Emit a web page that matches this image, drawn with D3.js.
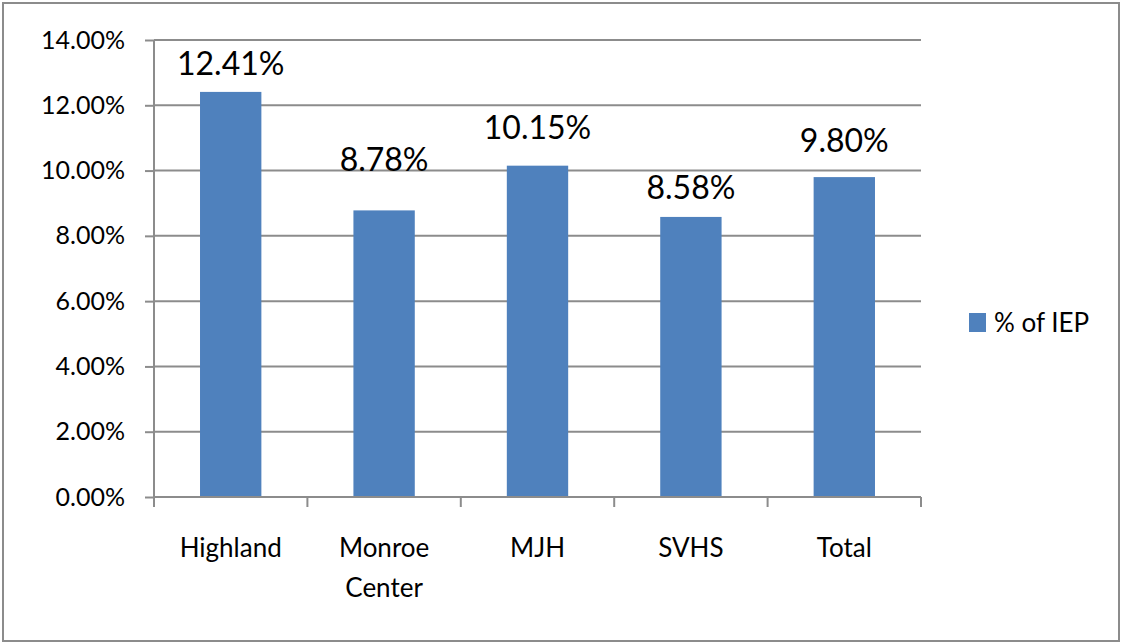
<!DOCTYPE html>
<html>
<head>
<meta charset="utf-8">
<script src="https://cdn.jsdelivr.net/npm/d3@7"></script>
<style>
  body { margin: 0; background: #fff; }
  text { font-family: Lato, "Open Sans", sans-serif; fill: #000; }
</style>
</head>
<body>
<svg width="1122" height="644"></svg>
<script>
// chart data
let categories = ["Highland", "Monroe Center", "MJH", "SVHS", "Total"];
let values = [12.41, 8.78, 10.15, 8.58, 9.80];
let yTicks = [0, 2, 4, 6, 8, 10, 12, 14];
let seriesName = "% of IEP";

// the data labels were nudged by hand in the original, px above bar top
let labelLift = [17, 39, 27, 18, 25];

let svg = d3.select("svg"),
    width = +svg.attr("width"),
    height = +svg.attr("height");

let plotLeft = 154, plotRight = 921, plotTop = 40, plotBottom = 497;

// outer frame
svg.append("rect")
    .attr("x", 3).attr("y", 3)
    .attr("width", width - 6).attr("height", height - 6)
    .attr("fill", "#fff")
    .attr("stroke", "#8c8c8c")
    .attr("stroke-width", 2);

let x = d3.scaleBand()
    .domain(categories)
    .range([plotLeft, plotRight])
    .paddingInner(0.6)
    .paddingOuter(0.3);

let y = d3.scaleLinear()
    .domain([0, 14])
    .range([plotBottom, plotTop]);

// gridlines
svg.append("g")
    .selectAll("line")
    .data(yTicks.filter(function(d) { return d > 0; }))
    .enter().append("line")
      .attr("x1", plotLeft).attr("x2", plotRight)
      .attr("y1", function(d) { return y(d); })
      .attr("y2", function(d) { return y(d); })
      .attr("stroke", "#8c8c8c")
      .attr("stroke-width", 2);

// y axis
let yAxis = svg.append("g")
    .attr("transform", "translate(" + plotLeft + ",0)")
    .call(d3.axisLeft(y)
      .tickValues(yTicks)
      .tickSize(9)
      .tickPadding(20)
      .tickFormat(function(d) { return d.toFixed(2) + "%"; }));
yAxis.select(".domain").attr("stroke", "#8c8c8c").attr("stroke-width", 2)
    .attr("d", "M0," + plotTop + "V" + plotBottom);
yAxis.selectAll(".tick line").attr("stroke", "#8c8c8c").attr("stroke-width", 2);
yAxis.selectAll(".tick text")
    .style("font-size", "25px")
    .style("font-family", "Lato, 'Open Sans', sans-serif")
    .attr("fill", "#000");

// bars
svg.append("g")
    .selectAll("rect")
    .data(values)
    .enter().append("rect")
      .attr("x", function(d, i) { return x(categories[i]); })
      .attr("y", function(d) { return y(d); })
      .attr("width", x.bandwidth())
      .attr("height", function(d) { return plotBottom - y(d); })
      .attr("fill", "#4f81bd");

// x axis
let step = x.step();
let xAxisLine = svg.append("g");
xAxisLine.append("line")
    .attr("x1", plotLeft).attr("x2", plotRight)
    .attr("y1", plotBottom).attr("y2", plotBottom)
    .attr("stroke", "#8c8c8c").attr("stroke-width", 2);
xAxisLine.selectAll(".xt")
    .data(d3.range(categories.length + 1))
    .enter().append("line")
      .attr("class", "xt")
      .attr("x1", function(i) { return plotLeft + i * step; })
      .attr("x2", function(i) { return plotLeft + i * step; })
      .attr("y1", plotBottom).attr("y2", plotBottom + 10)
      .attr("stroke", "#8c8c8c").attr("stroke-width", 2);

// category labels, one word per line
svg.append("g")
    .selectAll("text")
    .data(categories)
    .enter().append("text")
      .attr("text-anchor", "middle")
      .style("font-size", "26px")
      .attr("x", function(d) { return x(d) + x.bandwidth() / 2; })
      .attr("y", 557)
      .each(function(d) {
        let words = d.split(" ");
        let t = d3.select(this);
        words.forEach(function(w, k) {
          t.append("tspan")
            .attr("x", x(d) + x.bandwidth() / 2)
            .attr("dy", k == 0 ? 0 : 40)
            .text(w);
        });
      });

// data labels
svg.append("g")
    .selectAll("text")
    .data(values)
    .enter().append("text")
      .attr("text-anchor", "middle")
      .style("font-size", "32px")
      .attr("x", function(d, i) { return x(categories[i]) + x.bandwidth() / 2; })
      .attr("y", function(d, i) { return y(d) - labelLift[i]; })
      .text(function(d) { return d.toFixed(2) + "%"; });

// legend
let legend = svg.append("g").attr("transform", "translate(969,313)");
legend.append("rect")
    .attr("width", 17).attr("height", 19)
    .attr("fill", "#4f81bd");
legend.append("text")
    .attr("x", 25).attr("y", 19)
    .style("font-size", "26px")
    .text(seriesName);
</script>
</body>
</html>
